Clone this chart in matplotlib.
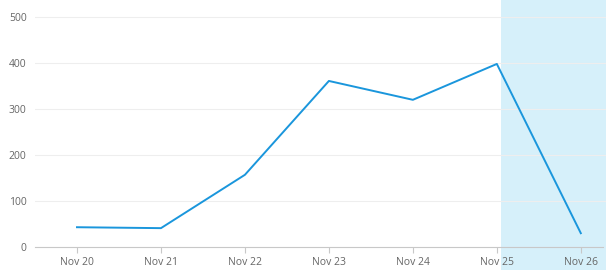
import matplotlib
matplotlib.use('agg')
import matplotlib.pyplot as plt

days = ['Nov 20', 'Nov 21', 'Nov 22', 'Nov 23', 'Nov 24', 'Nov 25', 'Nov 26']
values = [43, 41, 157, 361, 320, 398, 30]
y_ticks = [0, 100, 200, 300, 400, 500]

plt.rcParams['font.family'] = ['Open Sans', 'DejaVu Sans']

fig = plt.figure(figsize=(6.06, 2.8), dpi=100)
ax = fig.add_axes([35 / 606, 33 / 280, 571 / 606, 247 / 280])

x = list(range(len(days)))
# forecast band
ax.axvspan(5.05, 6.3, ymin=-0.093, ymax=1, color='#d6f0fa', lw=0, clip_on=False, zorder=0)
ax.plot(x, values, color='#1a96dc', lw=1.4, zorder=3)

ax.set_xlim(-0.5, 6.3)
ax.set_ylim(0, 537)
ax.set_xticks(x)
ax.set_xticklabels(days)
ax.set_yticks(y_ticks)
ax.grid(axis='y', color='#eeeeee', lw=0.8, zorder=1)
ax.set_axisbelow(True)

for s in ['top', 'right', 'left']:
    ax.spines[s].set_visible(False)
ax.spines['bottom'].set_color('#c8c8c8')
ax.spines['bottom'].set_bounds(-0.5, 6.26)
ax.tick_params(axis='x', colors='#c8c8c8', length=4, labelcolor='#666666', labelsize=7.5, pad=3)
ax.tick_params(axis='y', length=0, labelcolor='#666666', labelsize=7.5, pad=6)

fig.savefig('out.png', dpi=100)
